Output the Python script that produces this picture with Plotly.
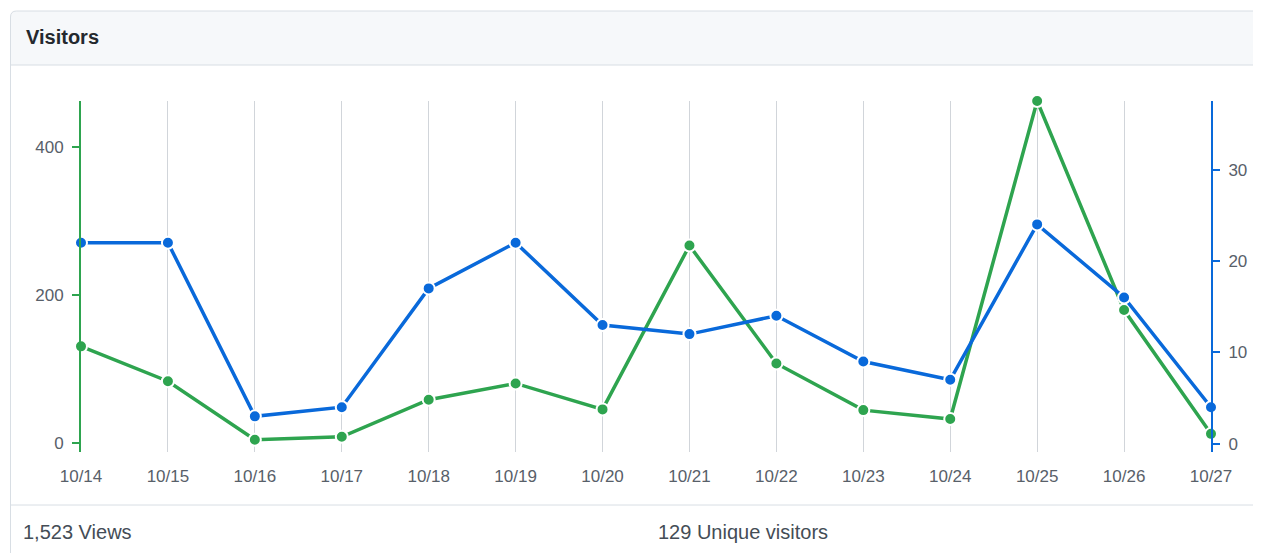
import plotly.graph_objects as go

dates = ["10/14", "10/15", "10/16", "10/17", "10/18", "10/19", "10/20",
         "10/21", "10/22", "10/23", "10/24", "10/25", "10/26", "10/27"]
views = [131, 84, 5, 9, 59, 81, 46, 267, 108, 45, 33, 462, 180, 13]
uniques = [22, 22, 3, 4, 17, 22, 13, 12, 14, 9, 7, 24, 16, 4]
views_ticks = [0, 200, 400]
uniques_ticks = [0, 10, 20, 30]
total_views_label = "1,523 Views"
total_uniques_label = "129 Unique visitors"
title_text = "Visitors"

GREEN = "#2ea44f"
BLUE = "#0969da"
GRID = "#d1d5da"
BORDER = "#d8dee4"
TICKTXT = "#586069"
FONT = "Liberation Sans, Arial, Helvetica, sans-serif"

# page has an 8px body margin; work in page pixels and shift
OFF = 8
W, H = 1261, 553 - OFF
L, R, T, B = 81 - OFF, 1211 - OFF, 101 - OFF, 452 - OFF  # plot area in figure pixels


def px(x):
    return (x - OFF - L) / (R - L)


def py(y):
    return (B - (y - OFF)) / (B - T)


fig = go.Figure()
fig.add_trace(go.Scatter(
    x=dates, y=views, mode="lines+markers", yaxis="y", cliponaxis=False,
    line=dict(color=GREEN, width=3.5),
    marker=dict(color=GREEN, size=12, line=dict(color="white", width=2)),
    hoverinfo="skip", showlegend=False))
fig.add_trace(go.Scatter(
    x=dates, y=uniques, mode="lines+markers", yaxis="y2", cliponaxis=False,
    line=dict(color=BLUE, width=3.5),
    marker=dict(color=BLUE, size=12, line=dict(color="white", width=2)),
    hoverinfo="skip", showlegend=False))

# panel shapes (page pixel coordinates)
r = 6
x0, y0 = 10.5, 11
hdr_bottom = 65
far = 1300
path = (f"M {px(x0)},{py(hdr_bottom)} L {px(x0)},{py(y0 + r)} "
        f"Q {px(x0)},{py(y0)} {px(x0 + r)},{py(y0)} L {px(far)},{py(y0)} "
        f"L {px(far)},{py(hdr_bottom)} Z")
shapes = [
    dict(type="path", xref="paper", yref="paper", path=path,
         fillcolor="#f6f8fa", line=dict(color=BORDER, width=1), layer="below"),
    dict(type="line", xref="paper", yref="paper", x0=px(x0), x1=px(x0),
         y0=py(hdr_bottom), y1=py(600), line=dict(color=BORDER, width=1), layer="below"),
    dict(type="line", xref="paper", yref="paper", x0=px(x0), x1=px(far),
         y0=py(505), y1=py(505), line=dict(color=BORDER, width=1), layer="below"),
]

annotations = [
    dict(xref="paper", yref="paper", x=px(24), y=py(37), xanchor="left", yanchor="middle",
         text=f"<b>{title_text}</b>", showarrow=False,
         font=dict(family=FONT, size=20, color="#24292e")),
    dict(xref="paper", yref="paper", x=px(21), y=py(532), xanchor="left", yanchor="middle",
         text=total_views_label, showarrow=False,
         font=dict(family=FONT, size=20, color="#444d56")),
    dict(xref="paper", yref="paper", x=px(656), y=py(532), xanchor="left", yanchor="middle",
         text=total_uniques_label, showarrow=False,
         font=dict(family=FONT, size=20, color="#444d56")),
]

fig.update_layout(
    width=W, height=H, autosize=False,
    margin=dict(l=L, r=W - R, t=T, b=H - B, pad=0),
    paper_bgcolor="white", plot_bgcolor="white",
    font=dict(family=FONT, size=17, color=TICKTXT),
    shapes=shapes, annotations=annotations,
    xaxis=dict(type="category", range=[0, len(dates) - 1], showgrid=True,
               gridcolor=GRID, gridwidth=1, zeroline=False, showline=False,
               ticks="outside", ticklen=9, tickcolor="rgba(0,0,0,0)",
               tickfont=dict(family=FONT, size=17, color=TICKTXT)),
    yaxis=dict(range=[-11.5, 462], tickvals=views_ticks, showgrid=False, zeroline=False,
               showline=True, linecolor=GREEN, linewidth=2,
               ticks="outside", ticklen=7, tickwidth=2, tickcolor=GREEN,
               ticklabelstandoff=5,
               tickfont=dict(family=FONT, size=17, color=TICKTXT)),
    yaxis2=dict(range=[-0.9, 37.5], tickvals=uniques_ticks, overlaying="y", side="right",
                showgrid=False, zeroline=False,
                showline=True, linecolor=BLUE, linewidth=2,
                ticks="outside", ticklen=7, tickwidth=2, tickcolor=BLUE,
                ticklabelstandoff=5,
                tickfont=dict(family=FONT, size=17, color=TICKTXT)),
)

fig.write_html("out.html")
